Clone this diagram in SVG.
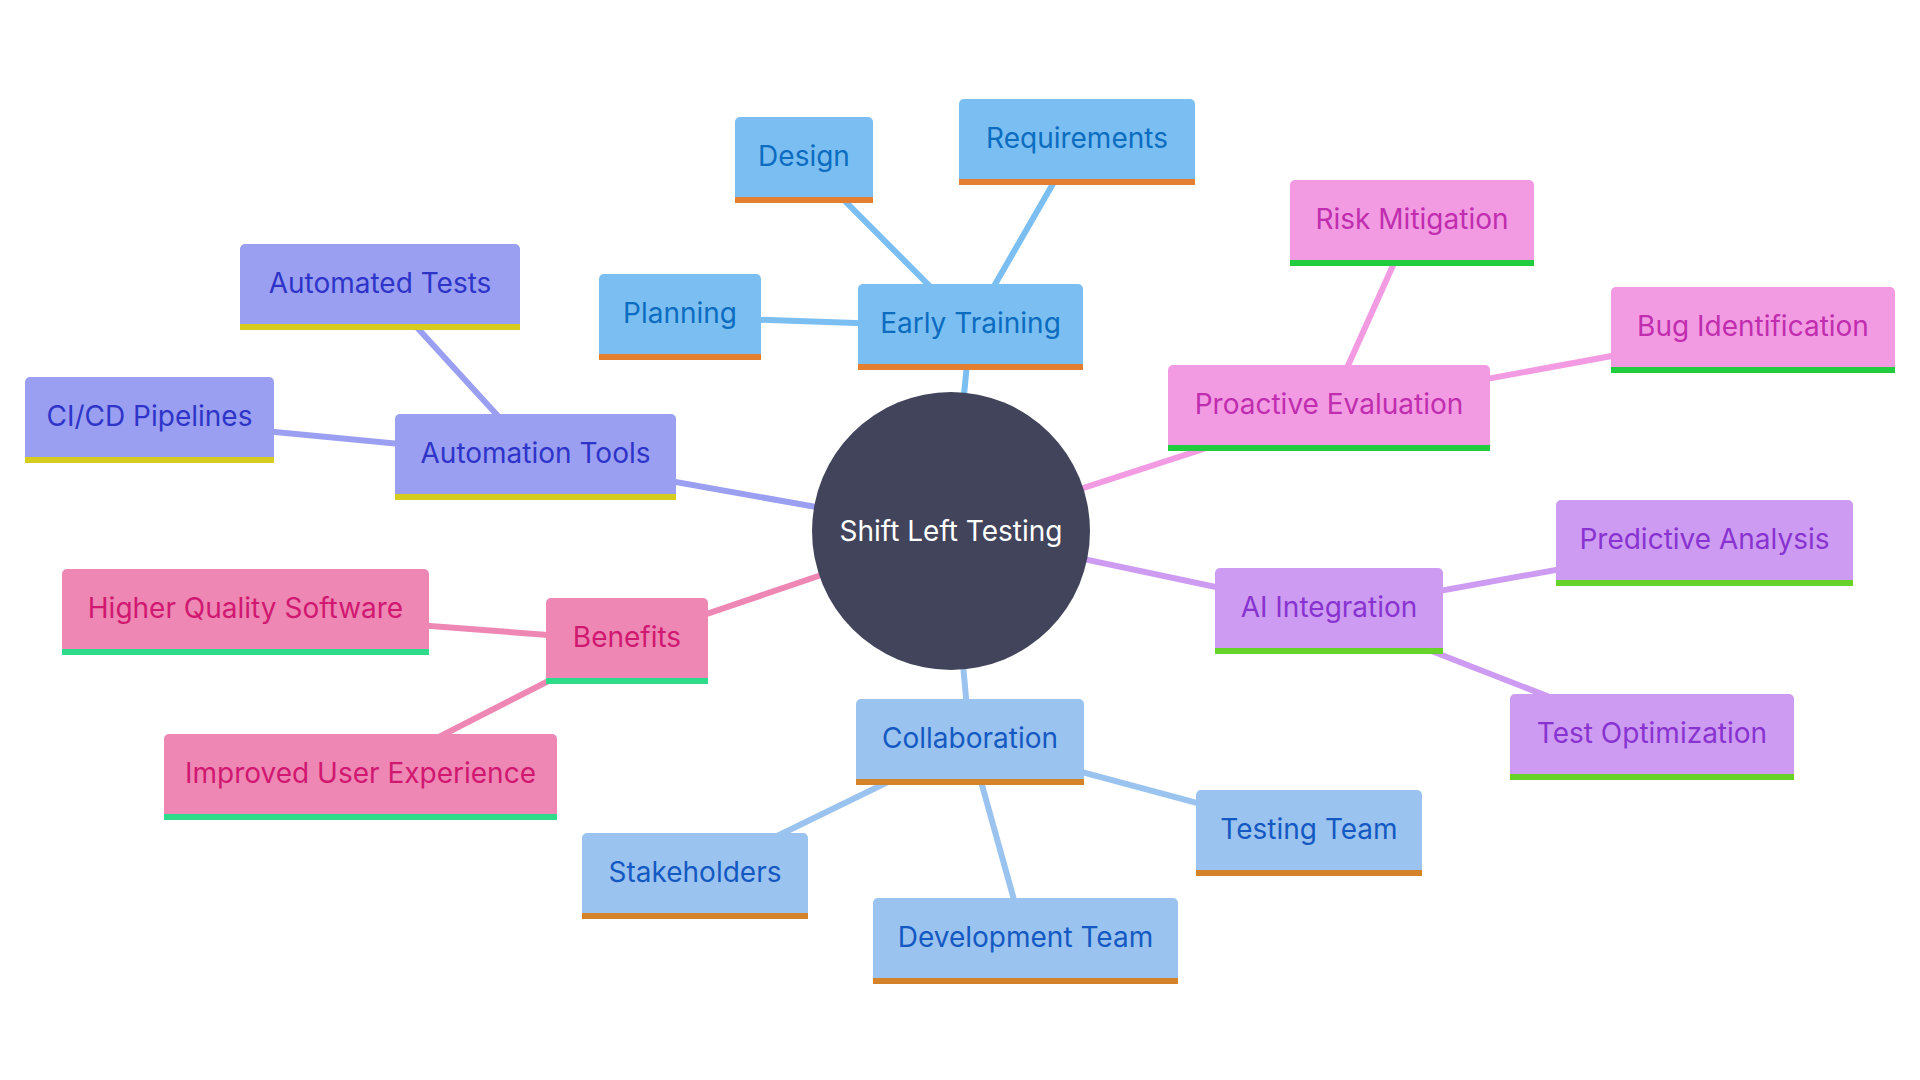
<svg xmlns="http://www.w3.org/2000/svg" width="1920" height="1080" viewBox="0 0 1920 1080">
<style>
text{font-family:Inter,"Noto Sans","Liberation Sans",sans-serif;font-size:28px;text-anchor:middle}
.c line{stroke-width:6;fill:none}
.t1 .b{fill:#7BBFF2}.t1 .s{fill:#E47E30}.t1 text{fill:#0B6CC0}
.t2 .b{fill:#9B9FF2}.t2 .s{fill:#D6CB1F}.t2 text{fill:#2E34C8}
.t3 .b{fill:#F29BE3}.t3 .s{fill:#22CC3F}.t3 text{fill:#C02DAE}
.t4 .b{fill:#CD9CF2}.t4 .s{fill:#66D22A}.t4 text{fill:#8833D0}
.t5 .b{fill:#EE87B4}.t5 .s{fill:#2EDB8A}.t5 text{fill:#D01870}
.t6 .b{fill:#9BC3F0}.t6 .s{fill:#D4832A}.t6 text{fill:#1459C2}
.l1{stroke:#7BBFF2}.l2{stroke:#9B9FF2}.l3{stroke:#F29BE3}.l4{stroke:#CD9CF2}.l5{stroke:#EE87B4}.l6{stroke:#9BC3F0}
</style>
<rect width="1920" height="1080" fill="#ffffff"/>
<g id="connectors" class="c">
<line class="l1" x1="951" y1="531" x2="970.5" y2="327"/>
<line class="l1" x1="970.5" y1="327" x2="680" y2="317"/>
<line class="l1" x1="970.5" y1="327" x2="804" y2="160"/>
<line class="l1" x1="970.5" y1="327" x2="1077" y2="142"/>
<line class="l2" x1="951" y1="531" x2="535.5" y2="457"/>
<line class="l2" x1="535.5" y1="457" x2="380" y2="287"/>
<line class="l2" x1="535.5" y1="457" x2="149.5" y2="420"/>
<line class="l3" x1="951" y1="531" x2="1329" y2="408"/>
<line class="l3" x1="1329" y1="408" x2="1412" y2="223"/>
<line class="l3" x1="1329" y1="408" x2="1753" y2="330"/>
<line class="l4" x1="951" y1="531" x2="1329" y2="611"/>
<line class="l4" x1="1329" y1="611" x2="1704.5" y2="543"/>
<line class="l4" x1="1329" y1="611" x2="1652" y2="737"/>
<line class="l5" x1="951" y1="531" x2="627" y2="641"/>
<line class="l5" x1="627" y1="641" x2="245.5" y2="612"/>
<line class="l5" x1="627" y1="641" x2="360.5" y2="777"/>
<line class="l6" x1="951" y1="531" x2="970" y2="742"/>
<line class="l6" x1="970" y1="742" x2="695" y2="876"/>
<line class="l6" x1="970" y1="742" x2="1025.5" y2="941"/>
<line class="l6" x1="970" y1="742" x2="1309" y2="833"/>
</g>
<g id="center">
<circle cx="951" cy="531" r="139" fill="#41445B"/>
<text x="951" y="541" fill="#ffffff">Shift Left Testing</text>
</g>
<g id="early-training" class="t1"><rect class="b" x="858" y="284" width="225" height="86" rx="5"/><rect class="s" x="858" y="364" width="225" height="6"/><text x="970.5" y="333">Early Training</text></g>
<g id="planning" class="t1"><rect class="b" x="599" y="274" width="162" height="86" rx="5"/><rect class="s" x="599" y="354" width="162" height="6"/><text x="680" y="323">Planning</text></g>
<g id="design" class="t1"><rect class="b" x="735" y="117" width="138" height="86" rx="5"/><rect class="s" x="735" y="197" width="138" height="6"/><text x="804" y="166">Design</text></g>
<g id="requirements" class="t1"><rect class="b" x="959" y="99" width="236" height="86" rx="5"/><rect class="s" x="959" y="179" width="236" height="6"/><text x="1077" y="148">Requirements</text></g>
<g id="automation-tools" class="t2"><rect class="b" x="395" y="414" width="281" height="86" rx="5"/><rect class="s" x="395" y="494" width="281" height="6"/><text x="535.5" y="463">Automation Tools</text></g>
<g id="automated-tests" class="t2"><rect class="b" x="240" y="244" width="280" height="86" rx="5"/><rect class="s" x="240" y="324" width="280" height="6"/><text x="380" y="293">Automated Tests</text></g>
<g id="cicd-pipelines" class="t2"><rect class="b" x="25" y="377" width="249" height="86" rx="5"/><rect class="s" x="25" y="457" width="249" height="6"/><text x="149.5" y="426">CI/CD Pipelines</text></g>
<g id="proactive-evaluation" class="t3"><rect class="b" x="1168" y="365" width="322" height="86" rx="5"/><rect class="s" x="1168" y="445" width="322" height="6"/><text x="1329" y="414">Proactive Evaluation</text></g>
<g id="risk-mitigation" class="t3"><rect class="b" x="1290" y="180" width="244" height="86" rx="5"/><rect class="s" x="1290" y="260" width="244" height="6"/><text x="1412" y="229">Risk Mitigation</text></g>
<g id="bug-identification" class="t3"><rect class="b" x="1611" y="287" width="284" height="86" rx="5"/><rect class="s" x="1611" y="367" width="284" height="6"/><text x="1753" y="336">Bug Identification</text></g>
<g id="ai-integration" class="t4"><rect class="b" x="1215" y="568" width="228" height="86" rx="5"/><rect class="s" x="1215" y="648" width="228" height="6"/><text x="1329" y="617">AI Integration</text></g>
<g id="predictive-analysis" class="t4"><rect class="b" x="1556" y="500" width="297" height="86" rx="5"/><rect class="s" x="1556" y="580" width="297" height="6"/><text x="1704.5" y="549">Predictive Analysis</text></g>
<g id="test-optimization" class="t4"><rect class="b" x="1510" y="694" width="284" height="86" rx="5"/><rect class="s" x="1510" y="774" width="284" height="6"/><text x="1652" y="743">Test Optimization</text></g>
<g id="benefits" class="t5"><rect class="b" x="546" y="598" width="162" height="86" rx="5"/><rect class="s" x="546" y="678" width="162" height="6"/><text x="627" y="647">Benefits</text></g>
<g id="higher-quality-software" class="t5"><rect class="b" x="62" y="569" width="367" height="86" rx="5"/><rect class="s" x="62" y="649" width="367" height="6"/><text x="245.5" y="618">Higher Quality Software</text></g>
<g id="improved-user-experience" class="t5"><rect class="b" x="164" y="734" width="393" height="86" rx="5"/><rect class="s" x="164" y="814" width="393" height="6"/><text x="360.5" y="783">Improved User Experience</text></g>
<g id="collaboration" class="t6"><rect class="b" x="856" y="699" width="228" height="86" rx="5"/><rect class="s" x="856" y="779" width="228" height="6"/><text x="970" y="748">Collaboration</text></g>
<g id="stakeholders" class="t6"><rect class="b" x="582" y="833" width="226" height="86" rx="5"/><rect class="s" x="582" y="913" width="226" height="6"/><text x="695" y="882">Stakeholders</text></g>
<g id="development-team" class="t6"><rect class="b" x="873" y="898" width="305" height="86" rx="5"/><rect class="s" x="873" y="978" width="305" height="6"/><text x="1025.5" y="947">Development Team</text></g>
<g id="testing-team" class="t6"><rect class="b" x="1196" y="790" width="226" height="86" rx="5"/><rect class="s" x="1196" y="870" width="226" height="6"/><text x="1309" y="839">Testing Team</text></g>
</svg>
